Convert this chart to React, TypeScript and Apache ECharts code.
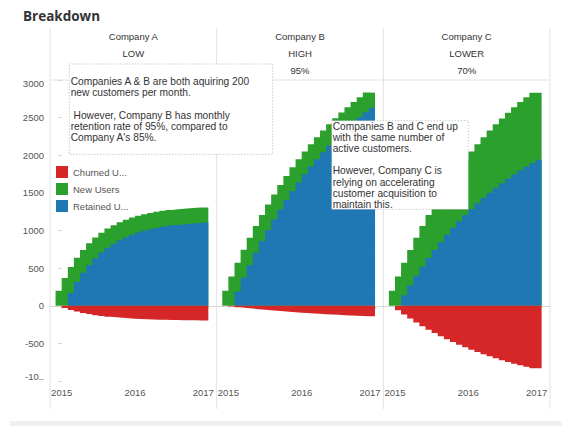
import React, { useEffect, useRef } from "react";
import * as echarts from "echarts";

// Monthly columns (Dec 2014 .. Dec 2016)
const months = [
  "2014-12", "2015-01", "2015-02", "2015-03", "2015-04", "2015-05", "2015-06",
  "2015-07", "2015-08", "2015-09", "2015-10", "2015-11", "2015-12", "2016-01",
  "2016-02", "2016-03", "2016-04", "2016-05", "2016-06", "2016-07", "2016-08",
  "2016-09", "2016-10", "2016-11", "2016-12",
];

const companies = ["Company A", "Company B", "Company C"];
const retentionLevels = ["LOW", "HIGH", "LOWER"];
const retentionRates = ["", "95%", "70%"];
const yearTicks = [2015, 2016, 2017];

// Company A
const retainedA = [0, 0, 170, 315, 437, 542, 630, 706, 770, 825, 871, 910, 944, 972, 996, 1017, 1034, 1049, 1062, 1073, 1082, 1089, 1096, 1102, 1106];
const newA = [200, 370, 345, 323, 304, 289, 276, 264, 255, 246, 239, 234, 228, 224, 221, 217, 215, 213, 211, 209, 208, 207, 206, 205, 200];
const churnedA = [0, -30, -56, -77, -96, -111, -125, -136, -146, -154, -161, -167, -172, -176, -179, -183, -185, -187, -189, -191, -192, -193, -194, -195, -195];

// Company B
const retainedB = [0, 0, 190, 371, 542, 705, 860, 1007, 1146, 1279, 1405, 1525, 1639, 1747, 1849, 1947, 2040, 2128, 2211, 2291, 2366, 2438, 2506, 2571, 2632];
const newB = [200, 390, 381, 372, 363, 355, 347, 340, 333, 326, 320, 314, 308, 303, 298, 293, 288, 284, 280, 276, 272, 268, 265, 262, 200];
const churnedB = [0, -10, -20, -29, -37, -45, -53, -60, -67, -74, -80, -86, -92, -97, -102, -107, -112, -116, -121, -125, -128, -132, -135, -139, -139];

// Company C
const retainedC = [0, 0, 140, 273, 399, 519, 633, 742, 845, 942, 1035, 1124, 1207, 1287, 1363, 1435, 1503, 1568, 1629, 1688, 1743, 1796, 1846, 1894, 1939];
const newC = [200, 390, 431, 469, 506, 540, 573, 605, 634, 663, 690, 715, 739, 762, 784, 805, 825, 843, 861, 878, 894, 910, 924, 938, 893];
const churnedC = [0, -60, -117, -171, -223, -271, -318, -362, -404, -444, -482, -517, -552, -584, -615, -644, -672, -698, -723, -747, -770, -791, -812, -831, -831];

const retained = [retainedA, retainedB, retainedC];
const newUsers = [newA, newB, newC];
const churned = [churnedA, churnedB, churnedC];

const RED = "#d62728";
const GREEN = "#2ca02c";
const BLUE = "#1f77b4";
const FONT = '"Liberation Sans", Arial, sans-serif';
const LINE = "#e2e2e2";

const monthPos = (m: string) => {
  const [y, mo] = m.split("-").map(Number);
  return (y - 2015) * 12 + (mo - 1);
};

const toPoints = (vals: number[]) => {
  const pts = vals.map((v, i) => [monthPos(months[i]), v]);
  pts.push([monthPos(months[months.length - 1]) + 1, vals[vals.length - 1]]);
  return pts;
};

export default function App() {
  const ref = useRef<HTMLDivElement>(null);
  useEffect(() => {
    document.body.style.margin = "0";
    const chart = echarts.init(ref.current!, undefined, { renderer: "svg" });

    const panelLefts = [50, 216.7, 383.3];
    const panelWidth = 166.7;
    const gridTop = 80;
    const gridHeight = 301;
    const xMin = -1.91;
    const xMax = 25.37;
    const tickVals = yearTicks.map((y) => (y - 2015) * 12);

    const grids = panelLefts.map((l) => ({ left: l, top: gridTop, width: panelWidth, height: gridHeight }));

    const xAxes = panelLefts.map((_, p) => ({
      gridIndex: p,
      type: "value",
      min: xMin,
      max: xMax,
      splitLine: { show: false },
      axisLine: { show: true, lineStyle: { color: "#d6d6d6" } },
      axisTick: { show: true, customValues: tickVals, length: 3, lineStyle: { color: "#d6d6d6" } },
      axisLabel: {
        customValues: tickVals,
        color: "#555",
        fontSize: 9.5,
        fontFamily: FONT,
        margin: 6,
        formatter: (v: number) => {
          const y = 2015 + Math.round(v / 12);
          return y === yearTicks[yearTicks.length - 1] ? `{r|${y}}` : String(y);
        },
        rich: { r: { padding: [0, 10, 0, 0], fontSize: 9.5, color: "#555", fontFamily: FONT } },
      },
    }));

    const yAxes = panelLefts.map((_, p) => ({
      gridIndex: p,
      type: "value",
      min: -1000,
      max: 3000,
      interval: 500,
      show: p === 0,
      splitLine: { show: false },
      axisLine: { show: false },
      axisTick: { show: true, length: 4, lineStyle: { color: "#d6d6d6" } },
      axisLabel: {
        margin: 6,
        color: "#555",
        fontSize: 9.5,
        fontFamily: FONT,
        formatter: (v: number) => {
          if (v === 3000) return "{t|3000}";
          if (v === -1000) return "{b|-10..}";
          return String(v);
        },
        rich: {
          t: { padding: [7, 0, 0, 0], fontSize: 9.5, color: "#555", fontFamily: FONT },
          b: { padding: [0, 0, 9, 0], fontSize: 9.5, color: "#555", fontFamily: FONT },
        },
      },
    }));

    const series: any[] = [];
    panelLefts.forEach((_, p) => {
      const cumulative = newUsers[p].map((v, i) => v + retained[p][i]);
      series.push({
        type: "line",
        name: "New Users",
        xAxisIndex: p,
        yAxisIndex: p,
        step: "end",
        symbol: "none",
        silent: true,
        z: 2,
        lineStyle: { width: 0 },
        itemStyle: { color: GREEN },
        areaStyle: { color: GREEN, opacity: 1 },
        data: toPoints(cumulative),
      });
      series.push({
        type: "line",
        name: "Retained Users",
        xAxisIndex: p,
        yAxisIndex: p,
        step: "end",
        symbol: "none",
        silent: true,
        z: 3,
        lineStyle: { width: 0 },
        itemStyle: { color: BLUE },
        areaStyle: { color: BLUE, opacity: 1 },
        data: toPoints(retained[p]),
      });
      series.push({
        type: "line",
        name: "Churned Users",
        xAxisIndex: p,
        yAxisIndex: p,
        step: "end",
        symbol: "none",
        silent: true,
        z: 3,
        lineStyle: { width: 0 },
        itemStyle: { color: RED },
        areaStyle: { color: RED, opacity: 1 },
        data: toPoints(churned[p]),
      });
    });

    const graphics: any[] = [];
    graphics.push({
      type: "text",
      style: {
        text: "Breakdown",
        x: 23,
        y: 16,
        fontSize: 13.5,
        fontWeight: "bold",
        fontFamily: '"Open Sans", sans-serif',
        fill: "#333",
        verticalAlign: "middle",
      },
    });
    [50, 216.7, 383.3, 550].forEach((x) => {
      graphics.push({
        type: "line",
        shape: { x1: x, y1: 28, x2: x, y2: 409 },
        style: { stroke: LINE, lineWidth: 1 },
      });
    });
    graphics.push({
      type: "line",
      shape: { x1: 50, y1: gridTop, x2: 550, y2: gridTop },
      style: { stroke: LINE, lineWidth: 1 },
    });
    panelLefts.forEach((l, p) => {
      const cx = l + panelWidth / 2;
      const rows = [
        { t: companies[p], y: 36.5 },
        { t: retentionLevels[p], y: 53 },
        { t: retentionRates[p], y: 70.7 },
      ];
      rows.forEach((r) => {
        if (!r.t) return;
        graphics.push({
          type: "text",
          style: {
            text: r.t,
            x: cx,
            y: r.y,
            fontSize: 9.5,
            fontFamily: FONT,
            fill: "#333",
            align: "center",
            verticalAlign: "middle",
          },
        });
      });
    });
    const notes = [
      {
        x: 69.3, y: 64, w: 203.4, h: 90.3, tx: 70.7, ty: 76.1,
        text: "Companies A & B are both aquiring 200\nnew customers per month.\n\n However, Company B has monthly\nretention rate of 95%, compared to\nCompany A's 85%.",
      },
      {
        x: 331.7, y: 120.7, w: 136.6, h: 88.6, tx: 332.7, ty: 120.4,
        text: "Companies B and C end up\nwith the same number of\nactive customers.\n\nHowever, Company C is\nrelying on accelerating\ncustomer acquisition to\nmaintain this.",
      },
    ];
    notes.forEach((n) => {
      graphics.push({
        type: "rect",
        z: 50,
        shape: { x: n.x, y: n.y, width: n.w, height: n.h },
        style: { fill: "#fff", stroke: "#b0b0b0", lineWidth: 1, lineDash: [1, 2] },
      });
      graphics.push({
        type: "text",
        z: 51,
        style: {
          text: n.text,
          x: n.tx,
          y: n.ty,
          fontSize: 10.2,
          lineHeight: 11.2,
          fontFamily: FONT,
          fill: "#333",
          align: "left",
          verticalAlign: "top",
        },
      });
    });
    graphics.push({
      type: "rect",
      shape: { x: 10, y: 421, width: 552, height: 5 },
      style: { fill: "#f0f0f0" },
    });

    chart.setOption({
      animation: false,
      grid: grids,
      xAxis: xAxes,
      yAxis: yAxes,
      legend: {
        orient: "vertical",
        left: 56,
        top: 166,
        padding: 0,
        itemWidth: 12,
        itemHeight: 12,
        itemGap: 5,
        icon: "rect",
        selectedMode: false,
        data: [
          { name: "Churned Users", itemStyle: { color: RED } },
          { name: "New Users", itemStyle: { color: GREEN } },
          { name: "Retained Users", itemStyle: { color: BLUE } },
        ],
        formatter: (name: string) => (name === "New Users" ? name : name.split(" ")[0] + " U..."),
        textStyle: { fontSize: 9.5, color: "#555", fontFamily: FONT },
      },
      series,
      graphic: graphics,
    });
    return () => chart.dispose();
  }, []);
  return <div ref={ref} style={{ width: 562, height: 426 }} />;
}
